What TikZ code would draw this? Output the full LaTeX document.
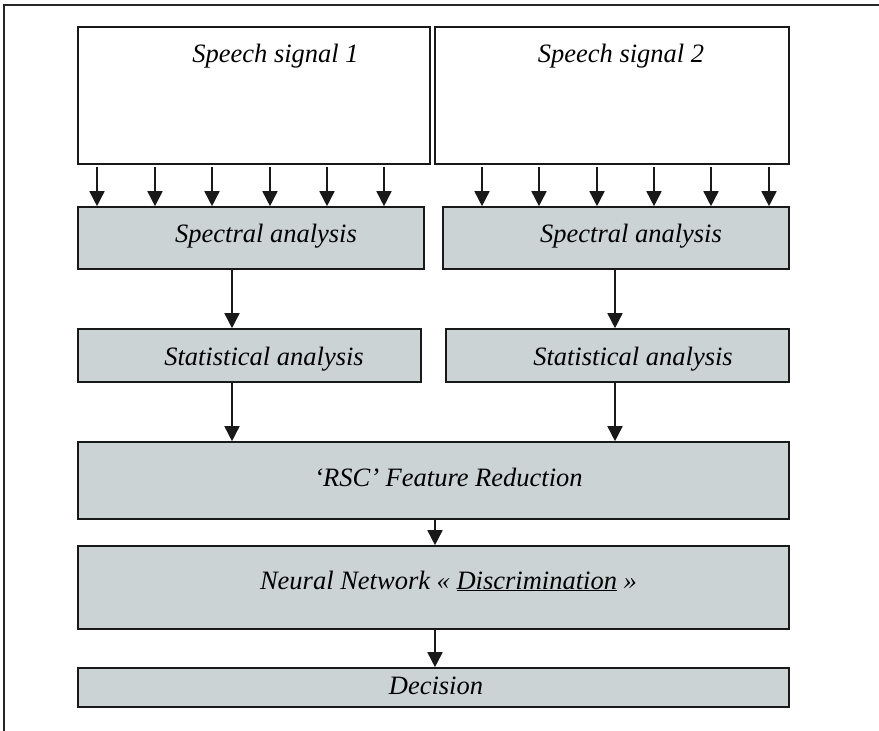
\documentclass[tikz,border=0pt]{standalone}
\usepackage{fontspec}
\setmainfont{Liberation Serif}
\usetikzlibrary{arrows.meta}
\definecolor{boxfill}{RGB}{203,211,212}
\tikzset{
  lbl/.style={font=\fontsize{26.5}{30}\selectfont\itshape, inner sep=0pt, anchor=base},
  sigbox/.style={draw=black!90, line width=1.6pt, fill=white, inner sep=0pt, anchor=center},
  procbox/.style={draw=black!90, line width=1.6pt, fill=boxfill, inner sep=0pt, anchor=center},
  arr/.style={draw=black!90, line width=1.6pt, -{Triangle[width=15pt,length=15pt]}}
}
\begin{document}
\begin{tikzpicture}[x=1pt,y=-1pt]
\useasboundingbox (0,0) rectangle (879,731);
% outer frame (top and left only)
\draw[line width=1.6pt, black!85] (4,731) -- (4,5) -- (879,5);
% speech signal boxes
\node[sigbox, minimum width=352pt, minimum height=137pt] (s1) at (254,95.5) {};
\node[sigbox, minimum width=354pt, minimum height=137pt] (s2) at (612,95.5) {};
\node[lbl] (s1t) at (275.5,62) {Speech signal 1};
\node[lbl] (s2t) at (621,62) {Speech signal 2};
% spectral analysis
\node[procbox, minimum width=346pt, minimum height=62pt] (sp1) at (251,238) {};
\node[procbox, minimum width=346pt, minimum height=62pt] (sp2) at (616,238) {};
\node[lbl] (sp1t) at (266,242) {Spectral analysis};
\node[lbl] (sp2t) at (631,242) {Spectral analysis};
% statistical analysis
\node[procbox, minimum width=343pt, minimum height=53pt] (st1) at (249.5,355.5) {};
\node[procbox, minimum width=343pt, minimum height=53pt] (st2) at (617.5,355.5) {};
\node[lbl] (st1t) at (264,365) {Statistical analysis};
\node[lbl] (st2t) at (633,365) {Statistical analysis};
% RSC
\node[procbox, minimum width=711pt, minimum height=77pt] (rsc) at (433.5,480.5) {};
\node[lbl] (rsct) at (448.5,486) {‘RSC’ Feature Reduction};
% NN
\node[procbox, minimum width=711pt, minimum height=83pt] (nn) at (433.5,587.5) {};
\node[lbl] (nnt) at (448.5,589) {Neural Network « \underline{Discrimination} »};
% Decision
\node[procbox, minimum width=711pt, minimum height=39pt] (dec) at (433.5,687.5) {};
\node[lbl] (dect) at (436,694) {Decision};
% arrows from speech signals
\foreach \x [count=\i] in {97,155,212,270,327,384} {
  \coordinate (a\i) at (\x,0);
  \draw[arr, shorten <=2pt] (a\i |- s1.south) -- (a\i |- sp1.north);
}
\foreach \x [count=\i] in {482,539,597,654,711,769} {
  \coordinate (b\i) at (\x,0);
  \draw[arr, shorten <=2pt] (b\i |- s2.south) -- (b\i |- sp2.north);
}
\coordinate (cL) at (232,0);
\coordinate (cR) at (615,0);
\coordinate (cC) at (435,0);
\draw[arr] (cL |- sp1.south) -- (cL |- st1.north);
\draw[arr] (cR |- sp2.south) -- (cR |- st2.north);
\draw[arr] (cL |- st1.south) -- (cL |- rsc.north);
\draw[arr] (cR |- st2.south) -- (cR |- rsc.north);
\draw[arr] (cC |- rsc.south) -- (cC |- nn.north);
\draw[arr] (cC |- nn.south) -- (cC |- dec.north);
\end{tikzpicture}
\end{document}
